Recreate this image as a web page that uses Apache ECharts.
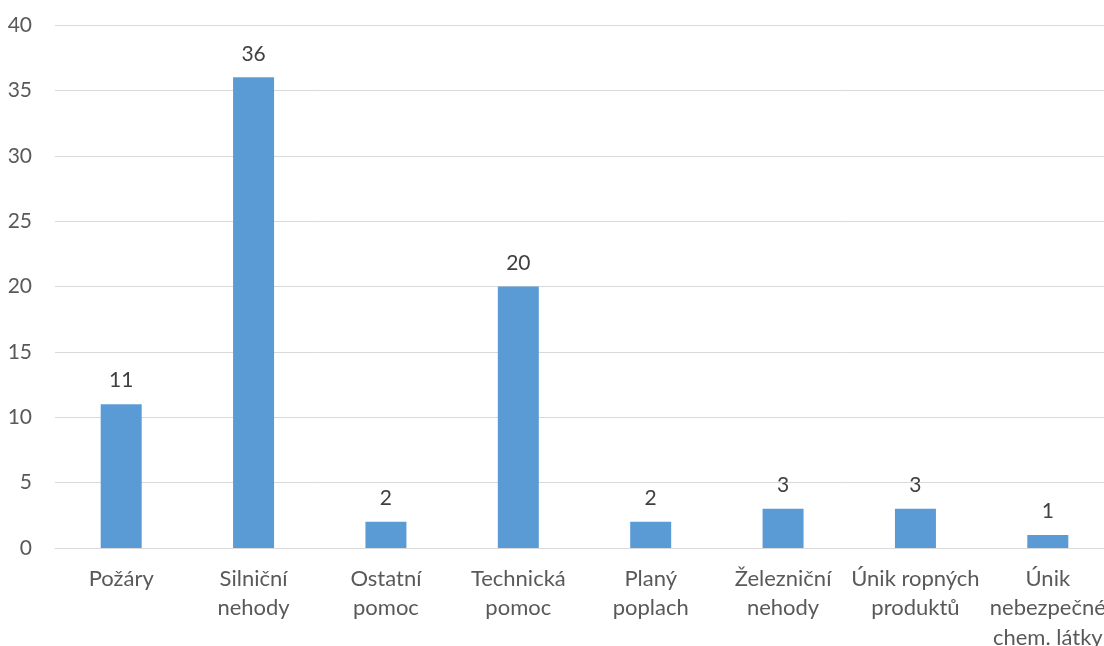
<!DOCTYPE html>
<html>
<head>
<meta charset="utf-8">
<script src="https://cdn.jsdelivr.net/npm/echarts@6/dist/echarts.min.js"></script>
<style>
  html, body { margin: 0; padding: 0; background: #ffffff; overflow: hidden; }
  #chart { width: 1104px; height: 646px; }
</style>
</head>
<body>
<div id="chart"></div>
<script>
// Incident categories (line breaks as shown under the axis)
const categories = [
  'Požáry',
  'Silniční\nnehody',
  'Ostatní\npomoc',
  'Technická\npomoc',
  'Planý\npoplach',
  'Železniční\nnehody',
  'Únik ropných\nproduktů',
  'Únik\nnebezpečné\nchem. látky'
];
// Number of incidents per category
const counts = [11, 36, 2, 20, 2, 3, 3, 1];
// Value axis ticks
const yTicks = [0, 5, 10, 15, 20, 25, 30, 35, 40];

const chart = echarts.init(document.getElementById('chart'), null, { renderer: 'canvas' });
const font = 'Lato, "Noto Sans", sans-serif';

chart.setOption({
  animation: false,
  // plot area runs a little past the right edge of the canvas
  grid: {
    left: 55, width: 1059, top: 25, height: 523,
    containLabel: false,
    outerBoundsMode: 'none'
  },
  xAxis: {
    type: 'category',
    data: categories,
    axisLine: { show: true, lineStyle: { color: '#D9D9D9', width: 1 } },
    axisTick: { show: false },
    axisLabel: {
      color: '#595959',
      fontFamily: font,
      fontSize: 22,
      lineHeight: 29.5,
      margin: 16,
      interval: 0
    }
  },
  yAxis: {
    type: 'value',
    min: yTicks[0],
    max: yTicks[yTicks.length - 1],
    interval: yTicks[1] - yTicks[0],
    axisLine: { show: false },
    axisTick: { show: false },
    splitLine: { lineStyle: { color: '#D9D9D9', width: 1 } },
    axisLabel: {
      color: '#595959',
      fontFamily: font,
      fontSize: 21,
      margin: 23
    }
  },
  series: [{
    type: 'bar',
    data: counts,
    barWidth: 41,
    itemStyle: { color: '#5B9BD5' },
    label: {
      show: true,
      position: 'top',
      distance: 13,
      color: '#404040',
      fontFamily: font,
      fontSize: 21
    }
  }]
});
</script>
</body>
</html>
